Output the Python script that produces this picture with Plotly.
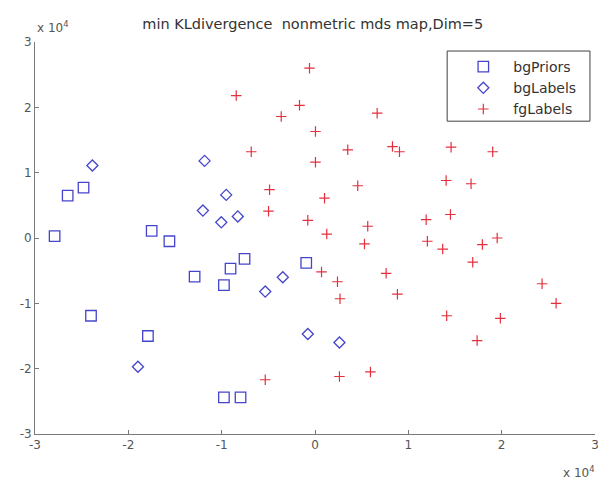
import plotly.graph_objects as go

# values in units of 1e4
bgPriors_x = [-2.79, -2.65, -2.48, -2.40, -1.75, -1.56, -1.79, -1.29, -0.905, -0.755, -0.976, -0.976, -0.798, -0.094]
bgPriors_y = [0.03, 0.65, 0.77, -1.19, 0.11, -0.05, -1.50, -0.59, -0.47, -0.32, -0.72, -2.44, -2.44, -0.38]

bgLabels_x = [-2.385, -1.183, -0.951, -1.201, -1.004, -0.827, -0.345, -0.533, -1.897, -0.077, 0.262]
bgLabels_y = [1.11, 1.18, 0.66, 0.42, 0.24, 0.33, -0.60, -0.82, -1.97, -1.47, -1.60]

fgLabels_x = [-0.059, -0.844, -0.166, -0.362, 0.666, 0.005, -0.683, 0.351, 0.830, 0.905,
              0.005, 1.458, 1.904, 1.405, 1.672, -0.487, 0.458, 0.102, -0.498, -0.077,
              0.565, 1.191, 1.451, 0.126, 0.530, 1.204, 1.368, 1.793, 1.952, 1.690,
              0.070, 0.241, 0.762, 0.268, 0.883, 2.433, 2.583, 1.411, 1.986, 1.737,
              -0.533, 0.262, 0.594]
fgLabels_y = [2.60, 2.18, 2.03, 1.86, 1.91, 1.63, 1.32, 1.35, 1.40, 1.32,
              1.16, 1.39, 1.32, 0.88, 0.83, 0.74, 0.80, 0.61, 0.41, 0.27,
              0.18, 0.28, 0.36, 0.06, -0.09, -0.05, -0.17, -0.10, 0.00, -0.37,
              -0.52, -0.67, -0.54, -0.93, -0.86, -0.70, -1.00, -1.19, -1.23, -1.57,
              -2.17, -2.12, -2.05]

scale = 1e4
tick_vals = [-3, -2, -1, 0, 1, 2, 3]
tick_text = ["-3", "-2", "-1", "0", "1", "2", "3"]

blue = "#4545cc"
red = "#e3303c"
FONT = "DejaVu Sans, Liberation Sans, Arial"

fig = go.Figure()
fig.add_trace(go.Scatter(
    x=[v * scale for v in bgPriors_x], y=[v * scale for v in bgPriors_y],
    mode="markers", name="bgPriors",
    marker=dict(symbol="square-open", size=10.5, color=blue, line=dict(width=1.3, color=blue))))
fig.add_trace(go.Scatter(
    x=[v * scale for v in bgLabels_x], y=[v * scale for v in bgLabels_y],
    mode="markers", name="bgLabels",
    marker=dict(symbol="diamond-open", size=8.5, color=blue, line=dict(width=1.3, color=blue))))
fig.add_trace(go.Scatter(
    x=[v * scale for v in fgLabels_x], y=[v * scale for v in fgLabels_y],
    mode="markers", name="fgLabels",
    marker=dict(symbol="cross-thin-open", size=7.5, color=red, line=dict(width=1.2, color=red))))

axis_common = dict(
    showgrid=False, zeroline=False, showline=True, linecolor="#7a7a7a", linewidth=1,
    ticks="inside", ticklen=4, tickcolor="#7a7a7a", tickwidth=1,
    tickfont=dict(family=FONT, size=12, color="#555555"),
    mirror=False, automargin=False, ticklabeloverflow="allow",
)

fig.update_layout(
    width=598, height=479,
    paper_bgcolor="white", plot_bgcolor="white",
    margin=dict(l=35, r=3, t=42, b=45),
    showlegend=True,
    title=dict(text="min KLdivergence  nonmetric mds map,Dim=5", xref="paper", x=0.496, xanchor="center",
               y=0.95, yanchor="middle",
               font=dict(family=FONT, size=14.5, color="#333333")),
    xaxis=dict(range=[-3e4, 3e4], tickvals=[v * scale for v in tick_vals], ticktext=tick_text, **axis_common),
    yaxis=dict(range=[-3e4, 3e4], tickvals=[v * scale for v in tick_vals], ticktext=tick_text, **axis_common),
    legend=dict(x=0.747, y=0.977, xanchor="left", yanchor="top",
                borderwidth=0, bgcolor="rgba(0,0,0,0)",
                font=dict(family=FONT, size=14, color="#333333"),
                itemsizing="trace", itemwidth=50),
    shapes=[
        dict(type="rect", xref="paper", yref="paper", x0=0.736, x1=0.991, y0=0.798, y1=0.977,
             line=dict(color="#404040", width=1), fillcolor="rgba(0,0,0,0)", layer="above"),
    ],
    annotations=[
        dict(text="x 10<sup>4</sup>", xref="paper", yref="paper", x=0.0, y=1.012,
             xanchor="left", yanchor="bottom", showarrow=False,
             font=dict(family=FONT, size=12, color="#555555")),
        dict(text="x 10<sup>4</sup>", xref="paper", yref="paper", x=1.004, y=-0.072,
             xanchor="right", yanchor="top", showarrow=False,
             font=dict(family=FONT, size=12, color="#555555")),
    ],
)

fig.write_html("out.html", config=dict(displayModeBar=False),
               post_script="document.body.style.margin='0px'; document.body.style.overflow='hidden';")
